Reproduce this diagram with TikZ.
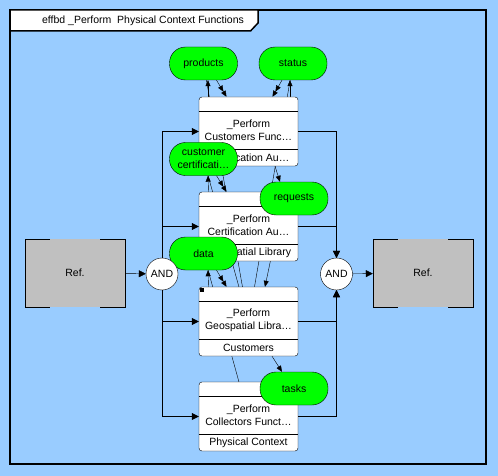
\documentclass[tikz,border=0pt]{standalone}
\usepackage{fontspec}
\setmainfont{Liberation Sans}
\usetikzlibrary{arrows.meta, calc}
\definecolor{skyblue}{RGB}{153,204,255}
\definecolor{resgreen}{RGB}{0,255,0}
\definecolor{refgray}{RGB}{192,192,192}
\pgfdeclarelayer{wires}
\pgfsetlayers{wires,main}

% function block: name, centre y, two title lines, bottom text
\newcommand{\fnblock}[5]{%
  \node[fnbox] (#1) at (248.5,#2) {};
  \draw ($(#1.north west)+(0,14)$) -- ($(#1.north east)+(0,14)$);
  \draw ($(#1.north west)+(0,52)$) -- ($(#1.north east)+(0,52)$);
  \node[align=center] (#1-name) at ($(#1.north)+(0,33.5)$) {#3\\#4};
  \node (#1-res) at ($(#1.north)+(0,61)$) {#5};
}

\begin{document}
\begin{tikzpicture}[x=1pt, y=-1pt, line width=1pt,
    font=\fontsize{10.5}{13}\selectfont,
    fnbox/.style={draw, fill=white, rounded corners=3pt, minimum width=99pt, minimum height=69pt, inner sep=0pt},
    resource/.style={draw, fill=resgreen, rounded corners=16pt, minimum width=68pt, minimum height=33pt, inner sep=0pt, align=center},
    gate/.style={circle, draw, fill=white, minimum size=32pt, inner sep=0pt},
    refbox/.style={fill=refgray, minimum width=100pt, minimum height=68pt, inner sep=0pt},
    flow/.style={-{Triangle[length=7pt, width=7pt]}},
    resarrow/.style={-{Triangle[length=6pt, width=5pt]}},
    resdouble/.style={-{Triangle[length=6pt, width=5pt] Triangle[length=6pt, width=5pt]}}]
    \useasboundingbox (0,0) rectangle (498,476);
    \begin{pgfonlayer}{wires}
        \fill[skyblue] (0,0) rectangle (498,476);
    \end{pgfonlayer}

    % Frame and title tab
    \draw[line width=2pt] (10,10) rectangle (485.5,464);
    \draw[fill=white, line width=1.5pt] (10,10) -- (258,10) -- (258,23) -- (250.5,31) -- (10,31) -- cycle;
    \node (title) at (143,20.5) {effbd \_Perform\ \ Physical Context Functions};

    % Functions
    \fnblock{cust}{131.5}{\_Perform}{Customers Func…}{Certification Au…}
    \fnblock{cert}{226.5}{\_Perform}{Certification Au…}{Geospatial Library}
    \fnblock{geo}{321.5}{\_Perform}{Geospatial Libra…}{Customers}
    \fnblock{coll}{416.5}{\_Perform}{Collectors Funct…}{Physical Context}
    \fill ($(geo.north west)+(1,1)$) rectangle +(4,4);

    % Resources
    \node[resource] (products) at (203.5,63.5) {products};
    \node[resource] (status) at (293,63.5) {status};
    \node[resource] (custcert) at (203.5,159) {customer\\certificati…};
    \node[resource] (requests) at (294,198.5) {requests};
    \node[resource] (data) at (203.5,253.5) {data};
    \node[resource] (tasks) at (294,388.5) {tasks};

    % Ref blocks and gates
    \node[refbox] (refL) at (75,273) {Ref.};
    \node[refbox] (refR) at (423,273) {Ref.};
    \foreach \r in {refL, refR} {
        \draw ([xshift=25pt]\r.north west) -- (\r.north west) -- (\r.south west) -- ([xshift=25pt]\r.south west);
        \draw ([xshift=-25pt]\r.north east) -- (\r.north east) -- (\r.south east) -- ([xshift=-25pt]\r.south east);
    }
    \node[gate] (andL) at (162,274) {AND};
    \node[gate] (andR) at (336.5,274) {AND};

    % Control flow
    \draw[flow] (refL) -- (andL);
    \draw[flow] (andL.north) |- (cust.west);
    \draw[flow] (andL.north) |- (cert.west);
    \draw[flow] (andL.south) |- (geo.west);
    \draw[flow] (andL.south) |- (coll.west);
    \draw[flow] (cust.east) -| (andR.north);
    \draw[flow] (cert.east) -| (andR.north);
    \draw[flow] (geo.east) -| (andR.south);
    \draw[flow] (coll.east) -| (andR.south);
    \draw[flow] (andR) -- (refR);

    % Resource links, behind the blocks
    \begin{pgfonlayer}{wires}
        \draw[resarrow] ($(cust.north)+(-40.5,0)$) -- ($(products.south)+(4.5,0)$);
        \draw[resdouble] ($(products.south)+(13,0)$) -- ($(cust.north)+(-22,0)$);
        \draw[resarrow] ($(cust.north)+(41.5,0)$) -- ($(status.south)+(-3,0)$);
        \draw[resdouble] ($(status.south)+(-11,0)$) -- ($(cust.north)+(24,0)$);
        \draw[resarrow] ($(cert.north)+(-40,0)$) -- ($(custcert.south)+(4.5,0)$);
        \draw[resdouble] ($(custcert.south)+(13,0)$) -- ($(cert.north)+(-22,0)$);
        \draw[resarrow] ($(geo.north)+(-40,0)$) -- ($(data.south)+(4.5,0)$);
        \draw[resdouble] ($(data.south)+(13,0)$) -- ($(geo.north)+(-22,0)$);
        \draw[resarrow] ($(cust.south)+(26.5,0)$) -- ($(requests.north)+(-14,0)$);
        \draw[resarrow] ($(requests.south)+(-14,0)$) -- ($(geo.north)+(16.5,0)$);
        \draw[resarrow] ($(geo.south)+(23.5,0)$) -- ($(tasks.north)+(-12,0)$);
        \draw (products) -- (geo);
        \draw (status) -- (geo);
        \draw (custcert) -- (geo);
        \draw (data) -- (coll);
    \end{pgfonlayer}
\end{tikzpicture}
\end{document}
